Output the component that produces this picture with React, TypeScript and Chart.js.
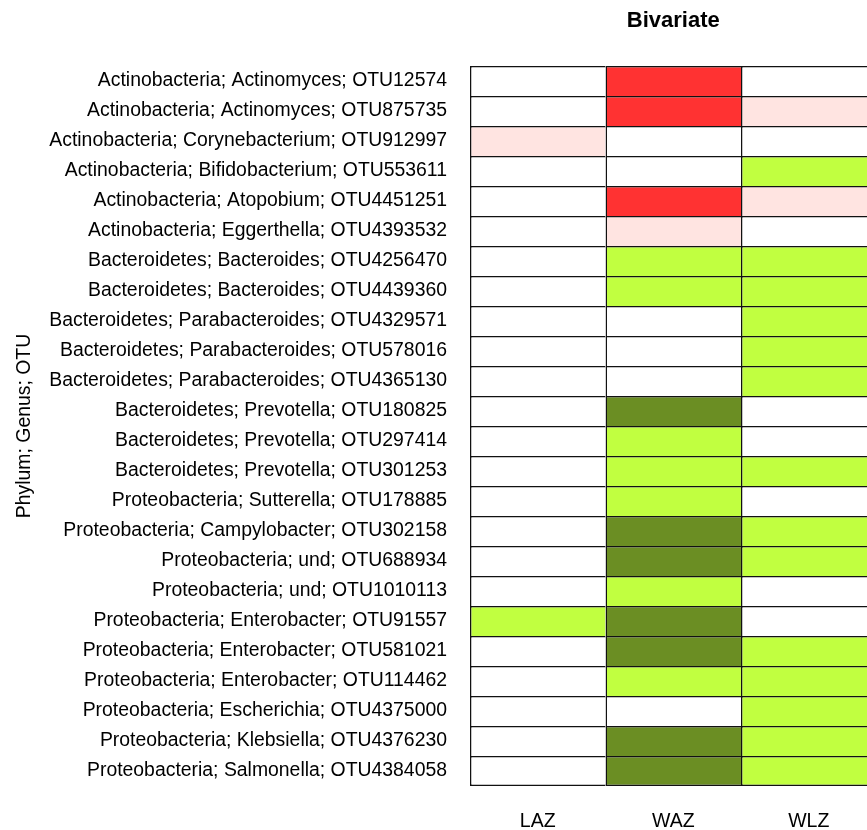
import React, { useEffect, useRef } from 'react';
import { Chart, registerables } from 'chart.js';

Chart.register(...registerables);

const rowLabels = [
  'Actinobacteria; Actinomyces; OTU12574',
  'Actinobacteria; Actinomyces; OTU875735',
  'Actinobacteria; Corynebacterium; OTU912997',
  'Actinobacteria; Bifidobacterium; OTU553611',
  'Actinobacteria; Atopobium; OTU4451251',
  'Actinobacteria; Eggerthella; OTU4393532',
  'Bacteroidetes; Bacteroides; OTU4256470',
  'Bacteroidetes; Bacteroides; OTU4439360',
  'Bacteroidetes; Parabacteroides; OTU4329571',
  'Bacteroidetes; Parabacteroides; OTU578016',
  'Bacteroidetes; Parabacteroides; OTU4365130',
  'Bacteroidetes; Prevotella; OTU180825',
  'Bacteroidetes; Prevotella; OTU297414',
  'Bacteroidetes; Prevotella; OTU301253',
  'Proteobacteria; Sutterella; OTU178885',
  'Proteobacteria; Campylobacter; OTU302158',
  'Proteobacteria; und; OTU688934',
  'Proteobacteria; und; OTU1010113',
  'Proteobacteria; Enterobacter; OTU91557',
  'Proteobacteria; Enterobacter; OTU581021',
  'Proteobacteria; Enterobacter; OTU114462',
  'Proteobacteria; Escherichia; OTU4375000',
  'Proteobacteria; Klebsiella; OTU4376230',
  'Proteobacteria; Salmonella; OTU4384058',
];

const columns = ['LAZ', 'WAZ', 'WLZ'];

// -2 strong negative, -1 weak negative, 0 none, 1 weak positive, 2 strong positive
const lazValues = [0, 0, -1, 0, 0, 0, 0, 0, 0, 0, 0, 0, 0, 0, 0, 0, 0, 0, 1, 0, 0, 0, 0, 0];
const wazValues = [-2, -2, 0, 0, -2, -1, 1, 1, 0, 0, 0, 2, 1, 1, 1, 2, 2, 1, 2, 2, 1, 0, 2, 2];
const wlzValues = [0, -1, 0, 1, -1, 0, 1, 1, 1, 1, 1, 0, 0, 1, 0, 1, 1, 0, 0, 1, 1, 1, 1, 1];

const titleText = 'Bivariate';
const yAxisTitle = 'Phylum; Genus; OTU';

const levelColors: Record<string, string> = {
  '-2': '#FF3232',
  '-1': '#FFE4E1',
  '0': '#FFFFFF',
  '1': '#C1FF40',
  '2': '#6B8E23',
};

const FONT = "'Liberation Sans', Arial, Helvetica, sans-serif";

export default function App() {
  const ref = useRef<HTMLCanvasElement | null>(null);

  useEffect(() => {
    if (!ref.current) return;
    const allValues = [lazValues, wazValues, wlzValues];
    const lastRow = rowLabels.length - 1;
    const datasets = columns.map((col, i) => ({
      label: col,
      data: allValues[i].map(() => [i, i + 1]),
      backgroundColor: allValues[i].map((v) => levelColors[String(v)]),
      borderColor: '#111111',
      borderWidth: (ctx: any) => ({
        top: 1.5,
        left: 1.5,
        right: i === columns.length - 1 ? 1.5 : 0,
        bottom: ctx.dataIndex === lastRow ? 1.5 : 0,
      }),
      borderSkipped: false,
      grouped: false,
      barPercentage: 1,
      categoryPercentage: 1,
      inflateAmount: 0,
    }));

    const chart = new Chart(ref.current, {
      type: 'bar',
      data: { labels: rowLabels, datasets: datasets as any },
      options: {
        indexAxis: 'y',
        responsive: false,
        animation: false,
        devicePixelRatio: 1,
        layout: { padding: { left: 0, right: 3.5, top: 0, bottom: 0 } },
        plugins: {
          legend: { display: false },
          tooltip: { enabled: false },
          title: { display: false },
        },
        scales: {
          y: {
            type: 'category',
            position: 'left',
            grid: { display: false, drawTicks: false },
            border: { display: false },
            ticks: {
              autoSkip: false,
              padding: 23,
              color: '#000',
              font: { family: FONT, size: 19.4 },
            },
            title: {
              display: true,
              text: yAxisTitle,
              color: '#000',
              font: { family: FONT, size: 19.4 },
              padding: { top: 13.5, bottom: 0 },
            },
            afterFit: (s: any) => {
              s.width = 470;
            },
          },
          x: {
            type: 'linear',
            position: 'bottom',
            min: 0,
            max: 3,
            grid: { display: false, drawTicks: false },
            border: { display: false },
            afterBuildTicks: (s: any) => {
              s.ticks = columns.map((_, i) => ({ value: i + 0.5 }));
            },
            ticks: {
              autoSkip: false,
              maxRotation: 0,
              padding: 23.5,
              color: '#000',
              font: { family: FONT, size: 19.5 },
              callback: (v: any) => columns[Math.floor(Number(v))] ?? '',
            },
            afterFit: (s: any) => {
              s.height = 44;
            },
          },
          x2: {
            type: 'linear',
            axis: 'x',
            position: 'top',
            min: 0,
            max: 1,
            grid: { display: false, drawTicks: false },
            border: { display: false },
            ticks: { display: false },
            title: {
              display: true,
              text: titleText,
              color: '#000',
              font: { family: FONT, size: 22, weight: 'bold' },
              padding: { top: 8, bottom: 0 },
            },
            afterFit: (s: any) => {
              s.height = 66;
            },
          },
        } as any,
      },
    });
    return () => chart.destroy();
  }, []);

  return (
    <div
      style={{
        position: 'absolute',
        left: 0,
        top: 0,
        width: 867,
        height: 830,
        overflow: 'hidden',
        background: '#fff',
      }}
    >
      <canvas ref={ref} width={880} height={830} style={{ display: 'block', width: 880, height: 830 }} />
    </div>
  );
}
